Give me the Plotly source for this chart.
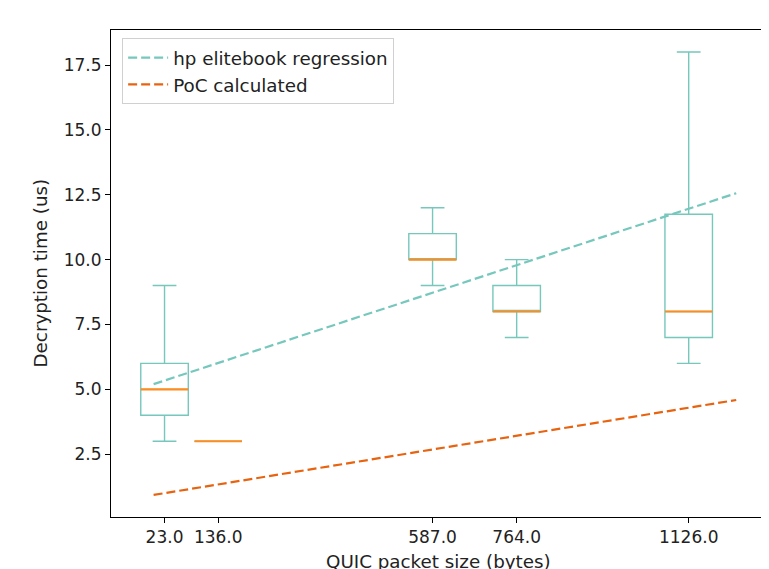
import plotly.graph_objects as go

# Data
positions = [23, 136, 587, 764, 1126]
tick_labels = ["23.0", "136.0", "587.0", "764.0", "1126.0"]
lower_whisker = [3, 3, 9, 7, 6]
q1 = [4, 3, 10, 8, 7]
median = [5, 3, 10, 8, 8]
q3 = [6, 3, 11, 9, 11.75]
upper_whisker = [9, 3, 12, 10, 18]

reg_x = [0, 1226]
hp_reg_y = [5.20, 12.56]
poc_y = [0.93, 4.59]

x_title = "QUIC packet size (bytes)"
y_title = "Decryption time (us)"

box_width = 100
teal = "#76c7bc"
median_orange = "#ff8c1f"
poc_orange = "#e8630f"
TICK_FS = 17
LABEL_FS = 18.3

fig = go.Figure()

fig.add_trace(go.Scatter(
    x=reg_x, y=hp_reg_y, mode="lines", name="hp elitebook regression",
    line=dict(color=teal, width=2.2, dash="9px,4px"),
))
fig.add_trace(go.Scatter(
    x=reg_x, y=poc_y, mode="lines", name="PoC calculated",
    line=dict(color=poc_orange, width=2.2, dash="9px,4px"),
))

fig.add_trace(go.Box(
    x=positions, q1=q1, median=median, q3=q3,
    lowerfence=lower_whisker, upperfence=upper_whisker,
    width=box_width, whiskerwidth=0.5,
    line=dict(color=teal, width=1.4), fillcolor="rgba(0,0,0,0)",
    showlegend=False, hoverinfo="skip", boxpoints=False,
))

# median lines in orange
mx, my = [], []
for p, m in zip(positions, median):
    mx += [p - box_width / 2, p + box_width / 2, None]
    my += [m, m, None]
fig.add_trace(go.Scatter(
    x=mx, y=my, mode="lines", showlegend=False, hoverinfo="skip",
    line=dict(color=median_orange, width=2.2),
))

axis_common = dict(
    showline=True, linecolor="black", linewidth=1, mirror=True,
    ticks="outside", ticklen=5, tickwidth=1, tickcolor="black",
    showgrid=False, zeroline=False, automargin=False,
    tickfont=dict(family="DejaVu Sans", size=TICK_FS, color="#222"),
)

# page body has an 8px margin, so the figure is 8px smaller and shifted
fig.update_layout(
    width=761, height=561,
    margin=dict(l=103, r=3, t=22, b=52),
    paper_bgcolor="white", plot_bgcolor="white",
    font=dict(family="DejaVu Sans", size=LABEL_FS, color="#222"),
    showlegend=True,
    legend=dict(
        x=0.017, y=0.983, xanchor="left", yanchor="top",
        bordercolor="#d0d0d0", borderwidth=1, bgcolor="rgba(255,255,255,0.8)",
        font=dict(family="DejaVu Sans", size=LABEL_FS, color="#222"),
        tracegroupgap=0, itemwidth=40,
    ),
    boxmode="overlay",
    annotations=[
        dict(text=x_title, xref="paper", yref="paper", x=0.5, y=0,
             xanchor="center", yanchor="middle", yshift=-44, showarrow=False,
             font=dict(family="DejaVu Sans", size=LABEL_FS, color="#222")),
        dict(text=y_title, xref="paper", yref="paper", x=0, y=0.5,
             xanchor="center", yanchor="middle", xshift=-71, textangle=-90,
             showarrow=False,
             font=dict(family="DejaVu Sans", size=LABEL_FS, color="#222")),
    ],
)
fig.update_xaxes(
    range=[-89.65, 1288.65], tickvals=positions, ticktext=tick_labels,
    **axis_common,
)
fig.update_yaxes(
    range=[0.08, 18.85], tickvals=[2.5, 5, 7.5, 10, 12.5, 15, 17.5],
    tickformat=".1f",
    **axis_common,
)

fig.write_html("out.html")
